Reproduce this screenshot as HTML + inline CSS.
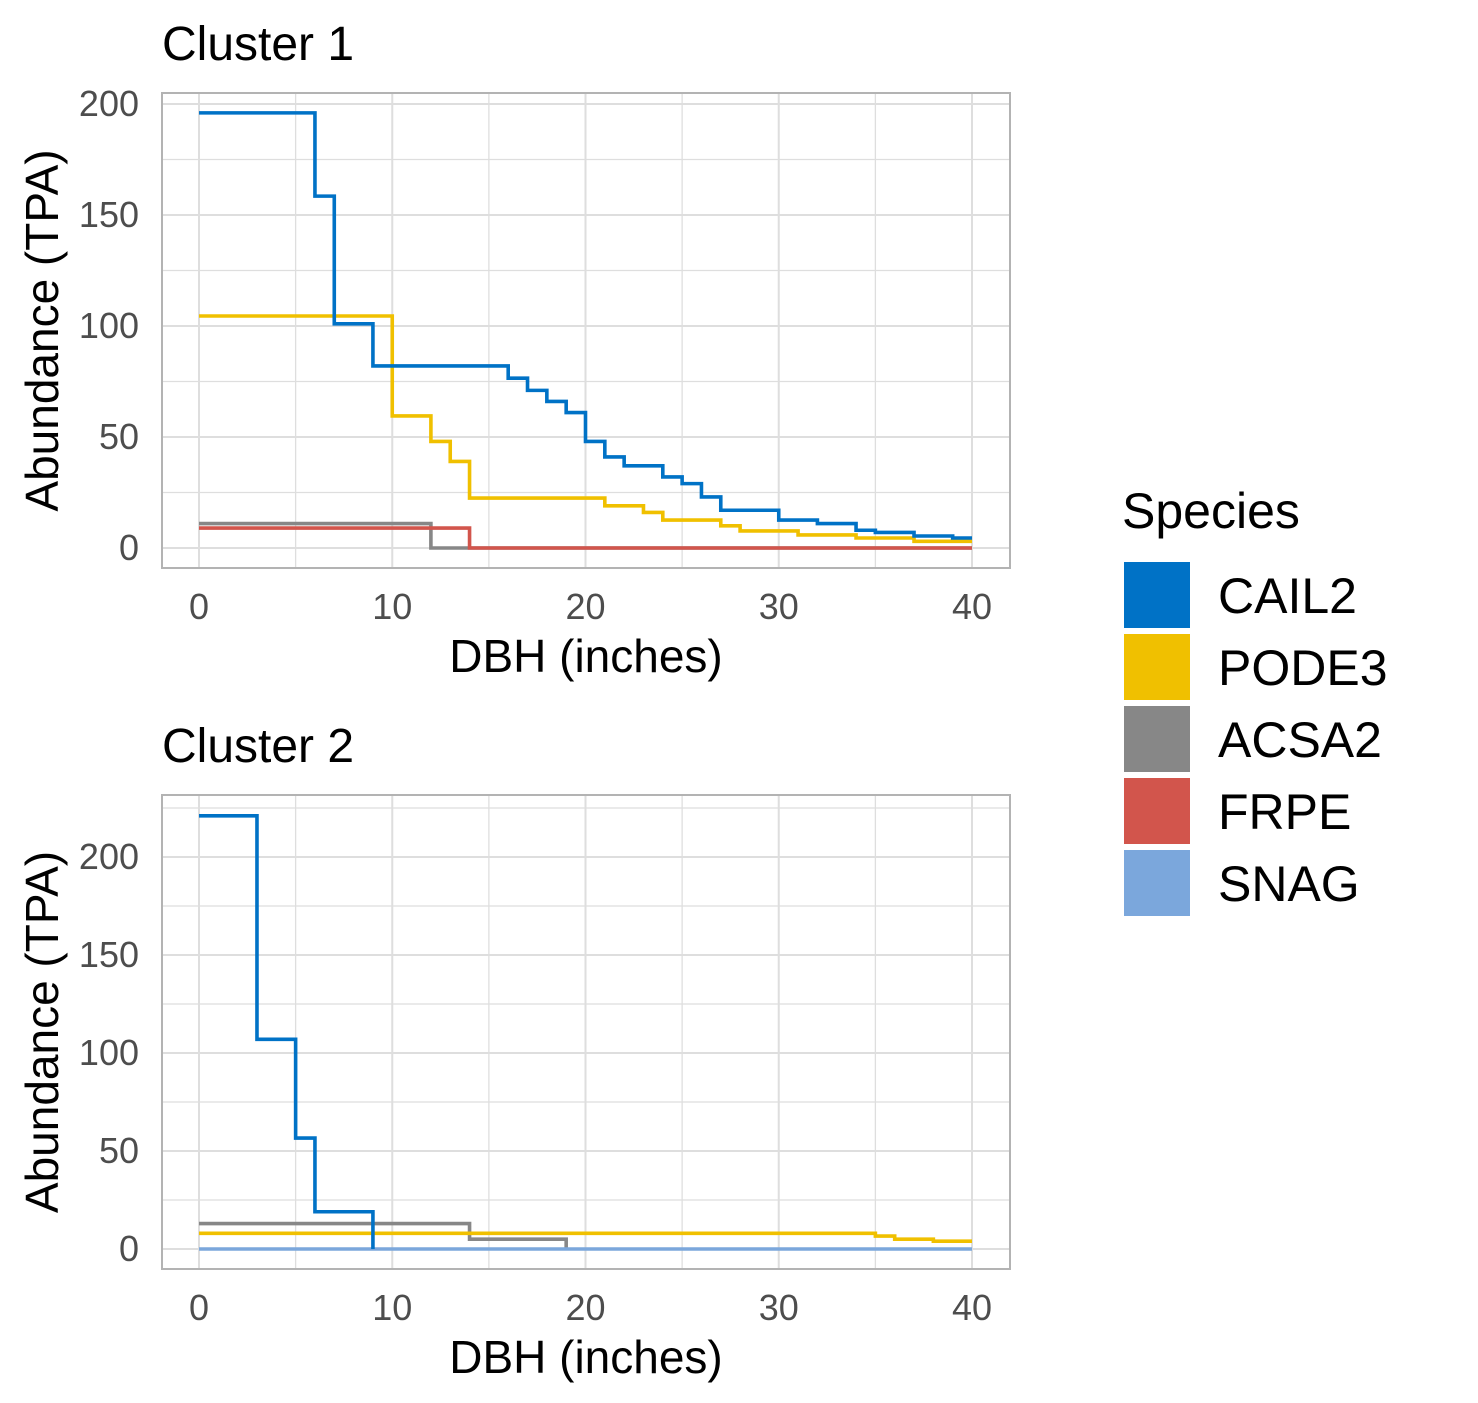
<!DOCTYPE html>
<html><head><meta charset="utf-8"><style>
html,body{margin:0;padding:0;background:#fff;}
svg{display:block;font-family:"Liberation Sans",Arial,sans-serif;}
</style></head><body>
<svg id="chart" width="1478" height="1403" viewBox="0 0 1478 1403"></svg>
<script>
const speciesNames = ["CAIL2","PODE3","ACSA2","FRPE","SNAG"];
const speciesColors = ["#0072c6","#f0c000","#878787","#d2554c","#7ba7dc"];
const xTicks = [0,10,20,30,40];
// Cluster 1 step data: [dbh], [abundance]
const c1_cail2_x = [0,6,7,9,16,17,18,19,20,21,22,24,25,26,27,30,32,34,35,37,39,40];
const c1_cail2_y = [196,158.5,101,82,76.5,71,66,61,48,41,37,32,29,23,17,12.6,11,8,7,5.4,4.5,4.5];
const c1_pode3_x = [0,10,12,13,14,21,23,24,27,28,31,34,37,40];
const c1_pode3_y = [104.5,59.5,48,39,22.5,19,16,12.6,10,7.7,5.9,4.5,3,3];
const c1_acsa2_x = [0,12,40];
const c1_acsa2_y = [11,0,0];
const c1_frpe_x = [0,14,40];
const c1_frpe_y = [9,0,0];
const c1_yTicks = [0,50,100,150,200];
// Cluster 2
const c2_cail2_x = [0,3,5,6,9];
const c2_cail2_y = [221,107,56.6,19,0];
const c2_acsa2_x = [0,14,19];
const c2_acsa2_y = [13,5,0];
const c2_pode3_x = [0,35,36,38,40];
const c2_pode3_y = [8,6.6,5,4,4];
const c2_snag_x = [0,40];
const c2_snag_y = [0,0];
const c2_yTicks = [0,50,100,150,200];

const NS="http://www.w3.org/2000/svg";
const svg=document.getElementById('chart');
function el(tag,attrs,parent,text){const e=document.createElementNS(NS,tag);for(const k in attrs)e.setAttribute(k,attrs[k]);if(text!==undefined)e.textContent=text;(parent||svg).appendChild(e);return e;}

function panel(cfg){
  const g=el('g',{});
  
  
  const L=162,R=1010,T=cfg.top,B=cfg.bottom;
  const sx=v=>199+v*(972-199)/40;
  const sy=v=>cfg.y0+v*(cfg.y200-cfg.y0)/200;
  for(let v=-5;v<=45;v+=5){const x=sx(v);if(x>L&&x<R){const l=el('line',{x1:x,x2:x,y1:T,y2:B,stroke:'#dedede','stroke-width':v%10===0?2:1.3},g);}}
  for(let v=-25;v<=cfg.ymax;v+=25){const y=sy(v);if(y>T&&y<B){const l=el('line',{x1:L,x2:R,y1:y,y2:y,stroke:'#dedede','stroke-width':v%50===0?2:1.3},g);}}
  cfg.series.forEach(s=>{
    let d='M'+sx(s.x[0])+','+sy(s.y[0]);
    for(let i=1;i<s.x.length;i++){d+=' H'+sx(s.x[i])+' V'+sy(s.y[i]);}
    const p=el('path',{d:d,fill:'none',stroke:speciesColors[s.i],'stroke-width':3.6},g);
    
    
  });
  const bd=el('rect',{x:L,y:T,width:R-L,height:B-T,fill:'none',stroke:'#b3b3b3','stroke-width':2},g);
  
  xTicks.forEach(v=>{const t=el('text',{x:sx(v),y:B+51,'text-anchor':'middle','font-size':36,fill:'#4d4d4d'},g,String(v));});
  cfg.yTicks.forEach(v=>{const t=el('text',{x:139,y:sy(v)+12,'text-anchor':'end','font-size':36,fill:'#4d4d4d'},g,String(v));});
  const xt=el('text',{x:586,y:B+104,'text-anchor':'middle','font-size':46,fill:'#000'},g,'DBH (inches)');
  
  const cy=(T+B)/2;
  const yt=el('text',{x:0,y:0,'text-anchor':'middle','font-size':46,fill:'#000',transform:'translate(58,'+cy+') rotate(-90)'},g,'Abundance (TPA)');
  
  const tt=el('text',{x:162,y:T-33,'font-size':48,fill:'#000'},g,cfg.title);
  
}
panel({name:'cluster-1-panel',title:'Cluster 1',top:93,bottom:568,y0:548,y200:104,ymax:225,yTicks:c1_yTicks,
  series:[{i:2,x:c1_acsa2_x,y:c1_acsa2_y},{i:3,x:c1_frpe_x,y:c1_frpe_y},{i:1,x:c1_pode3_x,y:c1_pode3_y},{i:0,x:c1_cail2_x,y:c1_cail2_y}]});
panel({name:'cluster-2-panel',title:'Cluster 2',top:795,bottom:1269,y0:1249,y200:857,ymax:225,yTicks:c2_yTicks,
  series:[{i:2,x:c2_acsa2_x,y:c2_acsa2_y},{i:4,x:c2_snag_x,y:c2_snag_y},{i:1,x:c2_pode3_x,y:c2_pode3_y},{i:0,x:c2_cail2_x,y:c2_cail2_y}]});

const lg=el('g',{});


const lt=el('text',{x:1122,y:528,'font-size':50,fill:'#000'},lg,'Species');

speciesNames.forEach((n,i)=>{
  const y=562+i*72;
  const r=el('rect',{x:1124,y:y,width:66,height:66,fill:speciesColors[i]},lg);
  
  
  const t=el('text',{x:1218,y:y+51,'font-size':50,fill:'#000'},lg,n);
  
  
});
</script>
</body></html>
